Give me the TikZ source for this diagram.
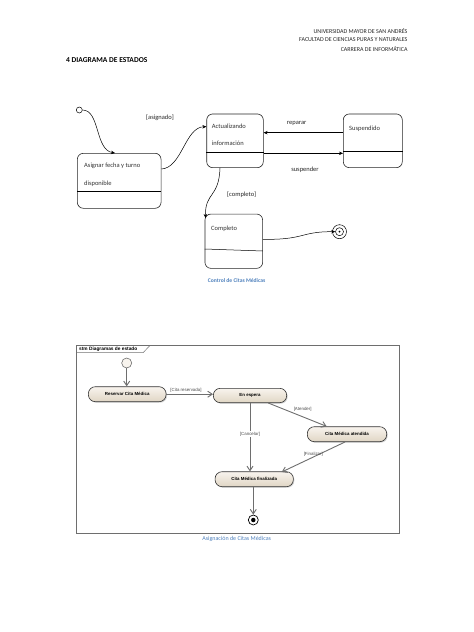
\documentclass[tikz,border=0pt]{standalone}
\usepackage{fontspec}
\setmainfont{Carlito}
\newfontfamily\arialf{Liberation Sans}
\usetikzlibrary{arrows.meta,shadows,calc}
\definecolor{capblue}{HTML}{4F81BD}
\definecolor{umlgray}{HTML}{6E6E6E}
\definecolor{beigetop}{HTML}{F8F4EE}
\definecolor{beigebot}{HTML}{E0D6C4}
\begin{document}
\begin{tikzpicture}[x=1pt,y=-1pt,
 sbox/.style={draw=black!85, line width=0.6pt, rounded corners=6pt, fill=white},
 stxt/.style={anchor=west, font=\fontsize{6.5}{7.5}\selectfont, text=black!80, inner sep=0pt},
 lbl/.style={font=\fontsize{6.5}{7.5}\selectfont, text=black!85, inner sep=0pt},
 arr/.style={-{Stealth[length=4pt,width=3.5pt]}, line width=0.5pt, black},
 ust/.style={draw=black!80, line width=0.6pt, rounded corners=7pt, top color=beigetop, bottom color=beigebot,
   drop shadow={shadow xshift=1pt,shadow yshift=-1pt,opacity=0.35},
   font=\arialf\bfseries\fontsize{4.4}{5}\selectfont, inner sep=0pt},
 uarr/.style={-{Straight Barb[length=4.5pt,width=6pt]}, draw=umlgray, line width=0.9pt},
 ulbl/.style={font=\arialf\fontsize{4.4}{5}\selectfont, text=black!70, inner sep=0.8pt},
 hdr/.style={font=\fontsize{6}{7}\selectfont, anchor=east, inner sep=0pt, text=black!85},
 captxt/.style={font=\bfseries\fontsize{5.6}{6.5}\selectfont, text=capblue, inner sep=0pt}]

\fill[white] (0,0) rectangle (474,632);
\useasboundingbox (0,0) rectangle (474,632);

% header
\node[hdr] (h1) at (407.7,30.7) {UNIVERSIDAD MAYOR DE SAN ANDRÉS};
\node[hdr] (h2) at (407.7,39.3) {FACULTAD DE CIENCIAS PURAS Y NATURALES};
\node[hdr] (h3) at (407.7,48.7) {CARRERA DE INFORMÁTICA};
\node[anchor=west, font=\bfseries\fontsize{7.5}{9}\selectfont, inner sep=0pt] (title) at (66,60) {4 DIAGRAMA DE ESTADOS};

% ---------- first diagram ----------
\node[draw, circle, minimum size=6pt, inner sep=0pt, line width=0.5pt] (i1) at (79.3,110) {};
\node[sbox, minimum width=83.7pt, minimum height=55pt] (asig) at (119.2,180.8) {};
\node[sbox, minimum width=56.6pt, minimum height=53.7pt] (act) at (235,140.8) {};
\node[sbox, minimum width=59pt, minimum height=53.7pt] (susp) at (372.8,140.8) {};
\node[sbox, minimum width=57.7pt, minimum height=54.3pt] (comp) at (233.8,241.2) {};

\draw[line width=0.5pt] (asig.west |- 0,191) -- (asig.east |- 0,191);
\draw[line width=0.5pt] (act.west |- 0,152) -- (act.east |- 0,152);
\draw[line width=0.5pt] (susp.west |- 0,151) -- (susp.east |- 0,151);
\draw[line width=0.5pt] (comp.west |- 0,249) -- (comp.east |- 0,251);

\node[stxt] (asigt1) at (84,166) {Asignar fecha y turno};
\node[stxt] (asigt2) at (84,184) {disponible};
\node[stxt] (actt1) at (211.7,126.7) {Actualizando};
\node[stxt] (actt2) at (211.7,143.3) {información};
\node[stxt] (suspt) at (349,129) {Suspendido};
\node[stxt] (compt) at (211,228.3) {Completo};

\node[draw, circle, minimum size=14pt, inner sep=0pt, line width=0.5pt] (f1) at (339.5,231.7) {};
\node[draw, circle, minimum size=8pt, inner sep=0pt, line width=0.5pt] (f1in) at (f1.center) {};
\node[fill, circle, minimum size=2pt, inner sep=0pt] (f1dot) at (f1.center) {};

\draw[arr] (i1.east) .. controls (100,110) and (95,150) .. (asig.north -| 115,0);
\draw[arr] (asig.east |- 0,169) .. controls (182,168) and (185,127) .. (act.west |- 0,126.7);
\draw[arr] (susp.west |- 0,132.7) -- (act.east |- 0,132.7);
\draw[arr] (act.east |- 0,153.3) -- (susp.west |- 0,153.3);
\draw[arr] (act.south -| 220,0) .. controls (219,198) and (205,192) .. (205.5,218);
\draw[arr] (comp.east |- 0,239.3) .. controls (305,240) and (300,231.5) .. (f1in.west);

\node[lbl] (lasig) at (160,118) {[asignado]};
\node[lbl] (lrep) at (296.7,123.3) {reparar};
\node[lbl] (lsus) at (305,170) {suspender};
\node[lbl] (lcomp) at (241.7,195) {[completo]};

\node[captxt] (cap1) at (236.7,280.7) {Control de Citas Médicas};

% ---------- second diagram ----------
\draw[draw=umlgray, line width=0.9pt] (76.7,345) rectangle (399.3,533.3);
\draw[draw=black!55, line width=0.5pt] (76.7,352.7) -- (143,352.7) -- (150,345.5);
\node[anchor=west, font=\arialf\bfseries\fontsize{4.8}{5.5}\selectfont, inner sep=0pt] (frt) at (79,349) {stm Diagramas de estado};

\node[draw=umlgray, fill=beigetop, circle, minimum size=10pt, inner sep=0pt, line width=0.6pt] (i2) at (126.7,363) {};
\node[ust, minimum width=77.7pt, minimum height=15pt] (res) at (127.2,394.2) {Reservar Cita Médica};
\node[ust, minimum width=73.4pt, minimum height=14.4pt] (esp) at (250,395.5) {En espera};
\node[ust, minimum width=79.4pt, minimum height=15pt] (aten) at (347,434.2) {Cita Médica atendida};
\node[ust, minimum width=78.3pt, minimum height=15pt] (fin) at (254.2,479.2) {Cita Médica finalizada};
\node[draw=black, circle, minimum size=10pt, inner sep=0pt, line width=0.7pt, fill=white] (f2) at (253.3,520) {};
\node[fill=black, circle, minimum size=4.5pt, inner sep=0pt] (f2in) at (f2.center) {};

\draw[uarr] (i2.south) -- (res.north -| i2.south);
\draw[uarr] (res.east) -- (esp.west |- res.east);
\draw[uarr] (esp.south -| 268.3,0) -- (aten.north -| 326.7,0);
\draw[uarr] (esp.south) -- (fin.north -| esp.south);
\draw[uarr] (aten.south -| 345,0) -- (281.7,472);
\draw[uarr] (fin.south -| f2.north) -- (f2.north);

\node[ulbl, above] (lres) at (186,393.5) {[Cita reservada]};
\node[ulbl] (laten) at (302.7,409.3) {[Atender]};
\node[ulbl, fill=white] (lcan) at (250,434.3) {[Cancelar]};
\node[ulbl] (lfin) at (313.3,454) {[Finalizar]};

\node[captxt, font=\fontsize{6}{7}\selectfont] (cap2) at (236.7,539.3) {Asignación de Citas Médicas};
\end{tikzpicture}
\end{document}
